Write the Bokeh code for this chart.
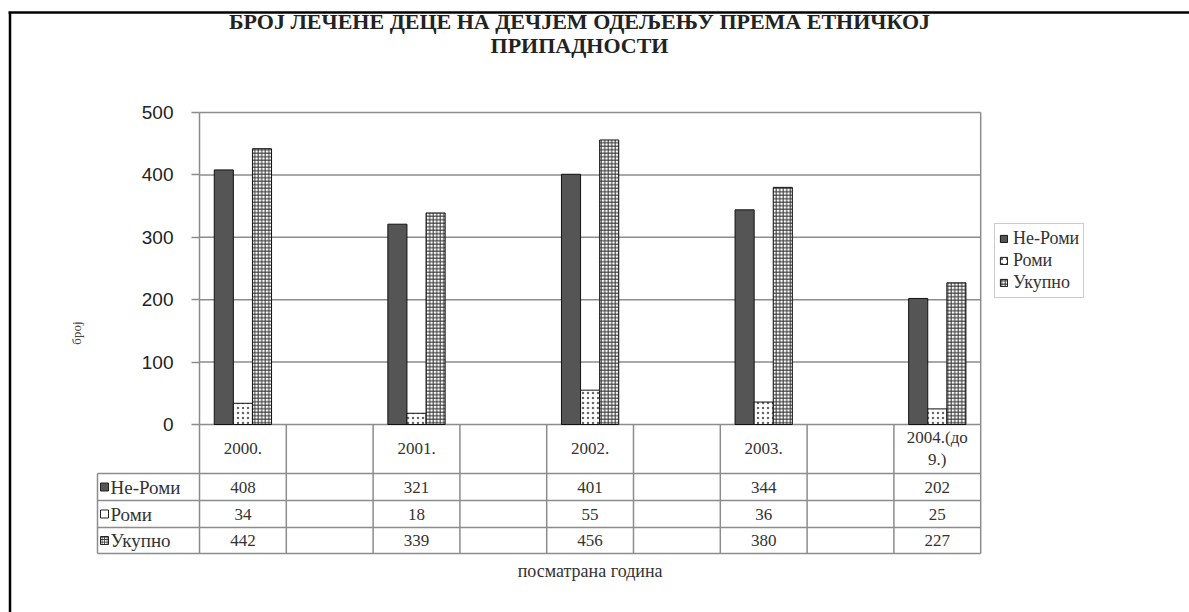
from math import pi
from bokeh.plotting import figure
from bokeh.models import Range1d, LinearAxis, FixedTicker, Legend, LegendItem
from bokeh.core.properties import value
from bokeh.embed import file_html
from bokeh.resources import INLINE

# ---------------- data ----------------
title_lines = ["БРОЈ ЛЕЧЕНЕ ДЕЦЕ НА ДЕЧЈЕМ ОДЕЉЕЊУ ПРЕМА ЕТНИЧКОЈ", "ПРИПАДНОСТИ"]
years = ["2000.", "2001.", "2002.", "2003.", "2004.(до\n9.)"]
series_names = ["Не-Роми", "Роми", "Укупно"]
ne_romi = [408, 321, 401, 344, 202]
romi = [34, 18, 55, 36, 25]
ukupno = [442, 339, 456, 380, 227]
y_ticks = [0, 100, 200, 300, 400, 500]
y_label = "број"
x_label = "посматрана година"

# ---------------- layout (screen px) ----------------
W, H = 1189, 612
OX, OY = 0, 0
X0, COL = 199.0, 86.8      # first column boundary, column width
Y0, PPU = 424.0, 0.624     # zero line, px per unit


def dx(sx):
    return (sx - X0) / COL


def dy(sy):
    return (Y0 - sy) / PPU


ncols = 2 * len(years) - 1
xc = [2 * i + 0.5 for i in range(len(years))]
BW = 0.22
GRID = "#8c8c8c"
SERIF = "Liberation Serif"

p = figure(width=W, height=H, title=None,
           x_range=Range1d(dx(OX), dx(OX + W)),
           y_range=Range1d(dy(OY + H), dy(OY)),
           x_axis_type=None, y_axis_type=None,
           toolbar_location=None, output_backend="svg", min_border=0)
p.outline_line_color = None
p.background_fill_color = "white"
p.border_fill_color = "white"

# page frame (top and left)
p.segment(x0=dx(8), x1=dx(W + 5), y0=dy(12), y1=dy(12), line_color="black", line_width=2.5)
p.segment(x0=dx(9.5), x1=dx(9.5), y0=dy(12), y1=dy(H + 5), line_color="black", line_width=2.5)

# gridlines and right border
p.segment(x0=0, x1=ncols, y0=y_ticks, y1=y_ticks, line_color=GRID, line_width=1.5)
p.segment(x0=ncols, x1=ncols, y0=0, y1=max(y_ticks), line_color=GRID, line_width=1.5)

# bars
r1 = p.vbar(x=[c - BW for c in xc], top=ne_romi, bottom=0, width=BW,
            fill_color="#555555", line_color="#111111", line_width=1)
r2 = p.vbar(x=xc, top=romi, bottom=0, width=BW, fill_color="white",
            hatch_pattern=".", hatch_scale=5, hatch_color="#666666",
            line_color="#111111", line_width=1)
r3 = p.vbar(x=[c + BW for c in xc], top=ukupno, bottom=0, width=BW, fill_color="white",
            hatch_pattern="+", hatch_scale=3.5, hatch_color="#333333", hatch_weight=1,
            line_color="#111111", line_width=1)

# y axis at the first column boundary
yaxis = LinearAxis(fixed_location=0, bounds=(dy(553), max(y_ticks)),
                   ticker=FixedTicker(ticks=y_ticks),
                   major_tick_out=8, major_tick_in=0, minor_tick_out=0, minor_tick_in=0,
                   axis_line_color=GRID, axis_line_width=1.5,
                   major_tick_line_color=GRID, major_tick_line_width=1.5,
                   major_label_text_font="Liberation Sans", major_label_text_font_size="19px",
                   major_label_text_color="#222222", major_label_standoff=18,
                   axis_label=y_label, axis_label_text_font=SERIF,
                   axis_label_text_font_size="13px", axis_label_text_font_style="normal",
                   axis_label_text_color="#444444", axis_label_standoff=55)
p.add_layout(yaxis, "left")

# data table
row_edges = [473, 500, 527, 553]
row_centers = [486.5, 513.5, 540]
p.segment(x0=dx(97), x1=ncols, y0=[dy(v) for v in row_edges], y1=[dy(v) for v in row_edges],
          line_color=GRID, line_width=1.5)
p.segment(x0=list(range(1, ncols + 1)), x1=list(range(1, ncols + 1)), y0=0, y1=dy(553),
          line_color=GRID, line_width=1.5)
p.segment(x0=dx(97), x1=dx(97), y0=dy(473), y1=dy(553), line_color=GRID, line_width=1.5)

p.text(x=xc, y=dy(448), text=years, text_align="center", text_baseline="middle",
       text_font=value(SERIF), text_font_size="17px", text_color="#333333")

for vals, yc in zip([ne_romi, romi, ukupno], row_centers):
    p.text(x=xc, y=dy(yc), text=[str(v) for v in vals], text_align="center",
           text_baseline="middle", text_font=value(SERIF), text_font_size="17px",
           text_color="#333333")

p.rect(x=dx(104), y=[dy(v) for v in row_centers], width=8, height=8,
       width_units="screen", height_units="screen",
       fill_color=["#555555", "white", "white"], line_color="#222222",
       hatch_pattern=[" ", " ", "+"], hatch_scale=2.5, hatch_color="#333333")
p.text(x=dx(110), y=[dy(v) for v in row_centers], text=series_names, text_align="left",
       text_baseline="middle", text_font=value(SERIF), text_font_size="19px",
       text_color="#333333")

# titles
p.text(x=dx(579), y=[dy(21), dy(45)], text=title_lines, text_align="center",
       text_baseline="middle", text_font=value(SERIF), text_font_style="bold",
       text_font_size="22px", text_color="#222222")
p.text(x=ncols / 2, y=dy(570), text=[x_label], text_align="center", text_baseline="middle",
       text_font=value(SERIF), text_font_size="18px", text_color="#333333")

# legend
legend = Legend(items=[LegendItem(label=n, renderers=[r]) for n, r in zip(series_names, [r1, r2, r3])],
                location=(994, H - 298), border_line_color="#999999", border_line_width=1.5,
                background_fill_color="white", label_text_font=SERIF,
                label_text_font_size="18px", label_text_color="#333333",
                glyph_width=9, glyph_height=9, label_height=18, spacing=1,
                padding=4, margin=0, label_standoff=5)
p.add_layout(legend)

open("out.html", "w").write(file_html(p, INLINE))
